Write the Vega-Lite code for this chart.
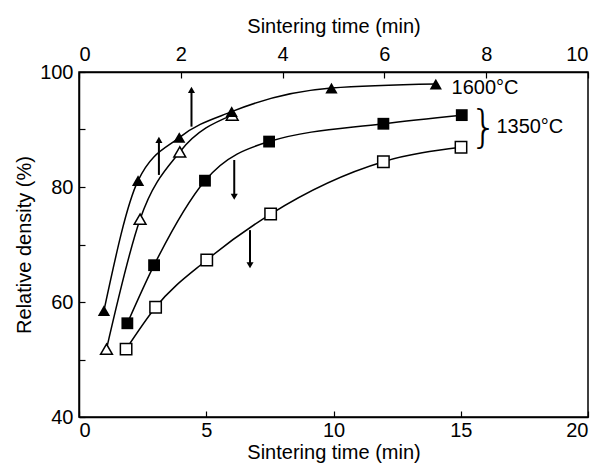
{
  "$schema": "https://vega.github.io/schema/vega-lite/v6.json",
  "width": 509,
  "height": 345,
  "autosize": "none",
  "padding": {"left": 79, "top": 72, "right": 14, "bottom": 49},
  "background": "white",
  "config": {
    "view": {"stroke": "black", "strokeWidth": 1.5},
    "font": "Liberation Sans",
    "axis": {
      "grid": false,
      "domainColor": "black",
      "domainWidth": 1.5,
      "tickColor": "black",
      "tickWidth": 1.2,
      "labelColor": "black",
      "titleColor": "black",
      "labelFont": "Liberation Sans",
      "titleFont": "Liberation Sans",
      "labelFontSize": 20,
      "titleFontSize": 20,
      "titleFontWeight": "normal"
    }
  },
  "datasets": {
    "squares": [
      {"series": "filled", "t": 1.9, "d": 56.3},
      {"series": "filled", "t": 2.95, "d": 66.4},
      {"series": "filled", "t": 4.95, "d": 81.1},
      {"series": "filled", "t": 7.47, "d": 87.9},
      {"series": "filled", "t": 11.96, "d": 91.0},
      {"series": "filled", "t": 15.04, "d": 92.5},
      {"series": "open", "t": 1.85, "d": 51.8},
      {"series": "open", "t": 3.01, "d": 59.1},
      {"series": "open", "t": 5.02, "d": 67.3},
      {"series": "open", "t": 7.53, "d": 75.3},
      {"series": "open", "t": 11.96, "d": 84.4},
      {"series": "open", "t": 15.01, "d": 86.9}
    ],
    "triangles": [
      {"series": "filled", "t": 0.49, "d": 58.5},
      {"series": "filled", "t": 1.16, "d": 81.1},
      {"series": "filled", "t": 1.97, "d": 88.6},
      {"series": "filled", "t": 3.0, "d": 93.1},
      {"series": "filled", "t": 4.96, "d": 97.2},
      {"series": "filled", "t": 7.01, "d": 97.9},
      {"series": "open", "t": 0.54, "d": 51.8},
      {"series": "open", "t": 1.2, "d": 74.4},
      {"series": "open", "t": 1.98, "d": 86.1},
      {"series": "open", "t": 3.01, "d": 92.5}
    ],
    "arrowsDown": [
      {"t": 6.1, "from": 84.7, "to": 78.3},
      {"t": 6.72, "from": 72.5, "to": 66.4}
    ],
    "arrowsUp": [
      {"t": 1.57, "from": 82.1, "to": 88.2},
      {"t": 2.21, "from": 90.5, "to": 96.9}
    ],
    "labels": [
      {"t": 14.64, "d": 97.2, "text": "1600°C"},
      {"t": 16.4, "d": 90.4, "text": "1350°C"}
    ],
    "brace": [
      {"t": 15.9, "d": 90.1, "text": "}"}
    ]
  },
  "layer": [
    {
      "encoding": {
        "x": {
          "field": "t",
          "type": "quantitative",
          "scale": {"domain": [0, 20], "nice": false, "zero": false},
          "axis": {
            "orient": "bottom",
            "title": "Sintering time (min)",
            "values": [0, 5, 10, 15, 20],
            "tickSize": -6,
            "labelPadding": 9,
            "titlePadding": 2
          }
        },
        "y": {
          "field": "d",
          "type": "quantitative",
          "scale": {"domain": [40, 100], "nice": false, "zero": false},
          "axis": {
            "title": "Relative density (%)",
            "values": [40, 50, 60, 70, 80, 90, 100],
            "labelExpr": "datum.value % 20 == 0 ? datum.label : ''",
            "tickSize": -6,
            "labelPadding": 12,
            "titlePadding": 5
          }
        }
      },
      "layer": [
        {
          "data": {"name": "squares"},
          "mark": {"type": "line", "interpolate": "monotone", "color": "black", "strokeWidth": 1.5},
          "encoding": {"detail": {"field": "series"}}
        },
        {
          "data": {"name": "squares"},
          "transform": [{"filter": "datum.series == 'filled'"}],
          "mark": {"type": "point", "shape": "square", "filled": true, "color": "black", "size": 140, "opacity": 1}
        },
        {
          "data": {"name": "squares"},
          "transform": [{"filter": "datum.series == 'open'"}],
          "mark": {"type": "point", "shape": "square", "filled": true, "fill": "white", "stroke": "black", "strokeWidth": 1.5, "size": 130, "opacity": 1}
        },
        {
          "data": {"name": "arrowsDown"},
          "mark": {"type": "rule", "color": "black", "strokeWidth": 2},
          "encoding": {
            "y": {"field": "from", "type": "quantitative"},
            "y2": {"field": "to"}
          }
        },
        {
          "data": {"name": "arrowsDown"},
          "mark": {"type": "point", "shape": "triangle-down", "filled": true, "color": "black", "size": 50, "opacity": 1},
          "encoding": {
            "y": {"field": "to", "type": "quantitative"}
          }
        },
        {
          "data": {"name": "labels"},
          "mark": {"type": "text", "align": "left", "baseline": "middle", "fontSize": 20, "font": "Liberation Sans", "color": "black"},
          "encoding": {"text": {"field": "text"}}
        },
        {
          "data": {"name": "brace"},
          "mark": {"type": "text", "align": "center", "baseline": "middle", "fontSize": 44, "font": "DejaVu Sans", "fontWeight": 200, "color": "black"},
          "encoding": {"text": {"field": "text"}}
        }
      ]
    },
    {
      "encoding": {
        "x": {
          "field": "t",
          "type": "quantitative",
          "scale": {"domain": [0, 10], "nice": false, "zero": false},
          "axis": {
            "orient": "top",
            "title": "Sintering time (min)",
            "values": [0, 2, 4, 6, 8, 10],
            "tickSize": -6,
            "labelPadding": 14,
            "titlePadding": 8
          }
        },
        "y": {"field": "d", "type": "quantitative"}
      },
      "layer": [
        {
          "data": {"name": "triangles"},
          "mark": {"type": "line", "interpolate": "monotone", "color": "black", "strokeWidth": 1.5},
          "encoding": {"detail": {"field": "series"}}
        },
        {
          "data": {"name": "triangles"},
          "transform": [{"filter": "datum.series == 'open'"}],
          "mark": {"type": "point", "shape": "triangle-up", "filled": true, "fill": "white", "stroke": "black", "strokeWidth": 1.5, "size": 140, "opacity": 1}
        },
        {
          "data": {"name": "triangles"},
          "transform": [{"filter": "datum.series == 'filled'"}],
          "mark": {"type": "point", "shape": "triangle-up", "filled": true, "color": "black", "size": 150, "opacity": 1}
        },
        {
          "data": {"name": "arrowsUp"},
          "mark": {"type": "rule", "color": "black", "strokeWidth": 2},
          "encoding": {
            "y": {"field": "from", "type": "quantitative"},
            "y2": {"field": "to"}
          }
        },
        {
          "data": {"name": "arrowsUp"},
          "mark": {"type": "point", "shape": "triangle-up", "filled": true, "color": "black", "size": 50, "opacity": 1},
          "encoding": {
            "y": {"field": "to", "type": "quantitative"}
          }
        }
      ]
    }
  ],
  "resolve": {"scale": {"x": "independent"}, "axis": {"x": "independent"}}
}
